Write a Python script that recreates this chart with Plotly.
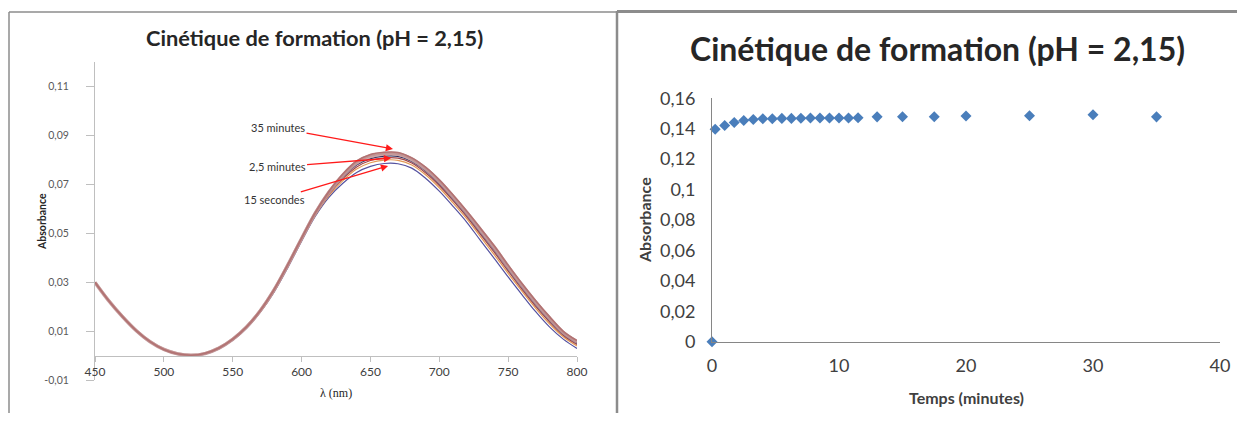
import plotly.graph_objects as go

# ---------------- data: left panel (spectra) ----------------
wavelengths = list(range(450, 801, 10))

abs_15s = [0.0297, 0.0222, 0.0157, 0.0100, 0.0055, 0.0024, 0.0006, 0.0000, 0.0007, 0.0028,
           0.0063, 0.0112, 0.0178, 0.0260, 0.0360, 0.0468, 0.0570, 0.0648, 0.0704, 0.0748,
           0.0773, 0.0785, 0.0784, 0.0766, 0.0725, 0.0672, 0.0610, 0.0545, 0.0470, 0.0397,
           0.0322, 0.0250, 0.0180, 0.0118, 0.0068, 0.0030]
abs_1min = [0.0298, 0.0223, 0.0158, 0.0101, 0.0056, 0.0025, 0.0007, 0.0001, 0.0008, 0.0029,
            0.0065, 0.0114, 0.0180, 0.0263, 0.0364, 0.0472, 0.0574, 0.0655, 0.0715, 0.0762,
            0.0788, 0.0799, 0.0798, 0.0779, 0.0739, 0.0686, 0.0624, 0.0559, 0.0485, 0.0412,
            0.0336, 0.0264, 0.0194, 0.0131, 0.0078, 0.0040]
abs_1_75min = [0.0298, 0.0223, 0.0158, 0.0101, 0.0056, 0.0025, 0.0007, 0.0001, 0.0008, 0.0030,
               0.0065, 0.0115, 0.0181, 0.0265, 0.0366, 0.0474, 0.0578, 0.0660, 0.0723, 0.0771,
               0.0797, 0.0808, 0.0807, 0.0787, 0.0747, 0.0695, 0.0633, 0.0567, 0.0495, 0.0422,
               0.0346, 0.0272, 0.0202, 0.0139, 0.0084, 0.0046]
abs_2_5min = [0.0299, 0.0224, 0.0159, 0.0102, 0.0057, 0.0025, 0.0007, 0.0001, 0.0009, 0.0031,
              0.0066, 0.0116, 0.0183, 0.0267, 0.0368, 0.0476, 0.0580, 0.0664, 0.0729, 0.0779,
              0.0805, 0.0815, 0.0814, 0.0793, 0.0754, 0.0702, 0.0640, 0.0574, 0.0502, 0.0430,
              0.0353, 0.0279, 0.0209, 0.0145, 0.0089, 0.0051]
abs_5min = [0.0299, 0.0224, 0.0159, 0.0102, 0.0057, 0.0026, 0.0008, 0.0002, 0.0009, 0.0031,
            0.0067, 0.0117, 0.0184, 0.0268, 0.0370, 0.0478, 0.0582, 0.0668, 0.0735, 0.0787,
            0.0813, 0.0823, 0.0822, 0.0800, 0.0762, 0.0710, 0.0648, 0.0582, 0.0511, 0.0439,
            0.0361, 0.0287, 0.0217, 0.0152, 0.0094, 0.0056]
abs_15min = [0.0300, 0.0225, 0.0160, 0.0103, 0.0058, 0.0026, 0.0008, 0.0002, 0.0010, 0.0032,
             0.0068, 0.0118, 0.0184, 0.0269, 0.0371, 0.0479, 0.0584, 0.0670, 0.0739, 0.0791,
             0.0818, 0.0827, 0.0826, 0.0805, 0.0766, 0.0714, 0.0652, 0.0586, 0.0516, 0.0444,
             0.0366, 0.0291, 0.0221, 0.0156, 0.0097, 0.0059]
abs_35min = [0.0300, 0.0225, 0.0160, 0.0103, 0.0058, 0.0026, 0.0008, 0.0002, 0.0010, 0.0032,
             0.0068, 0.0118, 0.0185, 0.0270, 0.0372, 0.0480, 0.0585, 0.0672, 0.0742, 0.0795,
             0.0822, 0.0831, 0.0830, 0.0808, 0.0770, 0.0718, 0.0656, 0.0590, 0.0520, 0.0448,
             0.0370, 0.0295, 0.0225, 0.0160, 0.0100, 0.0062]

left_ytick_vals = [-0.01, 0.01, 0.03, 0.05, 0.07, 0.09, 0.11]
left_ytick_text = ["-0,01", "0,01", "0,03", "0,05", "0,07", "0,09", "0,11"]
left_xtick_vals = [450, 500, 550, 600, 650, 700, 750, 800]

# ---------------- data: right panel (kinetics) ----------------
time_min = [0, 0.25, 1, 1.75, 2.5, 3.25, 4, 4.75, 5.5, 6.25, 7, 7.75, 8.5, 9.25, 10,
            10.75, 11.5, 13, 15, 17.5, 20, 25, 30, 35]
absorbance = [0, 0.1397, 0.1421, 0.1441, 0.1454, 0.1461, 0.1465, 0.1466, 0.1468, 0.1468,
              0.1469, 0.1470, 0.1470, 0.1470, 0.1471, 0.1471, 0.1472, 0.1478, 0.1479,
              0.1479, 0.1484, 0.1485, 0.1492, 0.1478]

TITLE = "Cinétique de formation (pH = 2,15)"
FONT = "Lato"
# the figure fills the page body (8 px body margin) -> 1229 x 405 canvas at (8, 8)
OFF = 8
CW, CH = 1229, 405


def px(x):
    return (x - OFF) / CW


def py(y):
    return 1 - (y - OFF) / CH


fig = go.Figure()

spectra = [
    (abs_15s, "15 s", "#5552a0", 1.2),
    (abs_1min, "1 min", "#e39a55", 1.2),
    (abs_1_75min, "1,75 min", "#a54545", 1.2),
    (abs_2_5min, "2,5 min", "#2a2a5c", 1.2),
    (abs_5min, "5 min", "rgba(200,158,158,0.85)", 3.4),
    (abs_15min, "15 min", "rgba(192,144,144,0.85)", 3.0),
    (abs_35min, "35 min", "#b27272", 1.6),
]
for vals, name, color, width in spectra:
    fig.add_trace(go.Scatter(
        x=wavelengths, y=vals, mode="lines", name=name,
        line=dict(color=color, width=width, shape="spline", smoothing=1.0),
        xaxis="x", yaxis="y", showlegend=False, hoverinfo="skip"))

fig.add_trace(go.Scatter(
    x=time_min, y=absorbance, mode="markers", name="Absorbance",
    marker=dict(symbol="diamond", size=8.5, color="#4a7ebb"),
    cliponaxis=False, xaxis="x2", yaxis="y2", showlegend=False))

fig.update_layout(
    margin=dict(l=0, r=0, t=0, b=0, pad=0, autoexpand=False),
    paper_bgcolor="white", plot_bgcolor="white",
    separators=", ",
    font=dict(family=FONT, color="#404040"),
    xaxis=dict(
        domain=[px(95), px(577)], range=[450, 800], automargin=False,
        anchor="free", position=py(355.8),
        tickvals=left_xtick_vals, showline=True, linecolor="#bfbfbf", linewidth=1,
        ticks="outside", ticklen=5, tickcolor="#bfbfbf",
        tickfont=dict(size=12, color="#404040", family=FONT),
        showgrid=False, zeroline=False),
    yaxis=dict(
        domain=[py(380.3), py(61.8)], range=[-0.01, 0.12], automargin=False,
        anchor="x", tickvals=left_ytick_vals, ticktext=left_ytick_text,
        showline=True, linecolor="#bfbfbf", linewidth=1,
        ticks="outside", ticklen=8, tickcolor="#bfbfbf", ticklabelstandoff=15,
        tickfont=dict(size=10.5, color="#595959", family=FONT),
        showgrid=False, zeroline=False),
    xaxis2=dict(
        domain=[px(712), px(1220)], range=[0, 40], dtick=10, automargin=False,
        anchor="y2", showline=True, linecolor="#868686", linewidth=1,
        ticks="outside", ticklen=8, tickcolor="rgba(0,0,0,0)",
        tickfont=dict(size=18, color="#404040", family=FONT),
        showgrid=False, zeroline=False),
    yaxis2=dict(
        domain=[py(341.7), py(98.3)], range=[0, 0.16], dtick=0.02, automargin=False,
        anchor="x2", showline=True, linecolor="#868686", linewidth=1,
        ticks="outside", ticklen=12, tickcolor="rgba(0,0,0,0)",
        tickfont=dict(size=18, color="#404040", family=FONT),
        showgrid=False, zeroline=False),
)


def paper_text(text, x, y, size, color, family=FONT, angle=0):
    return dict(text=text, x=px(x), y=py(y), xref="paper", yref="paper",
                xanchor="center", yanchor="middle", showarrow=False, textangle=angle,
                font=dict(size=size, color=color, family=family))


annotations = [
    paper_text("<b>" + TITLE + "</b>", 314, 37, 21.8, "#262626"),
    paper_text("<b>" + TITLE + "</b>", 937, 48, 32, "#262626"),
    paper_text("<b>Absorbance</b>", 42, 222, 10.5, "#262626", angle=-90),
    paper_text("λ (nm)", 336, 393, 12, "#262626", family="Liberation Serif"),
    paper_text("<b>Temps (minutes)</b>", 966, 397, 16, "#404040"),
    paper_text("<b>Absorbance</b>", 644, 220, 16, "#404040", angle=-90),
]

arrow_labels = [
    ("35 minutes", 582.9, 0.0930, 666.4, 0.0844),
    ("2,5 minutes", 582.2, 0.0771, 665.0, 0.0807),
    ("15 secondes", 580.0, 0.0636, 662.8, 0.0775),
]
for txt, tx, ty, hx, hy in arrow_labels:
    annotations.append(dict(
        text=txt, x=hx, y=hy, ax=tx, ay=ty, xref="x", yref="y", axref="x", ayref="y",
        showarrow=True, arrowhead=2, arrowsize=1.1, arrowwidth=1.3, arrowcolor="#ff1a1a",
        font=dict(size=11, color="#333333", family=FONT)))

fig.update_layout(annotations=annotations)

# panel frames
fig.add_shape(type="line", xref="paper", yref="paper",
              x0=px(9), x1=px(9), y0=0, y1=py(12),
              line=dict(color="#8c8c8c", width=1.5), layer="below")
fig.add_shape(type="line", xref="paper", yref="paper",
              x0=px(9), x1=px(617), y0=py(12), y1=py(12),
              line=dict(color="#8c8c8c", width=1.5), layer="below")
fig.add_shape(type="line", xref="paper", yref="paper",
              x0=px(617), x1=1.0, y0=py(11.5), y1=py(11.5),
              line=dict(color="#8c8c8c", width=3), layer="below")
fig.add_shape(type="line", xref="paper", yref="paper",
              x0=px(617), x1=px(617), y0=0, y1=py(11),
              line=dict(color="#8c8c8c", width=2.5), layer="below")

fig.write_html("out.html", config={"displayModeBar": False})
